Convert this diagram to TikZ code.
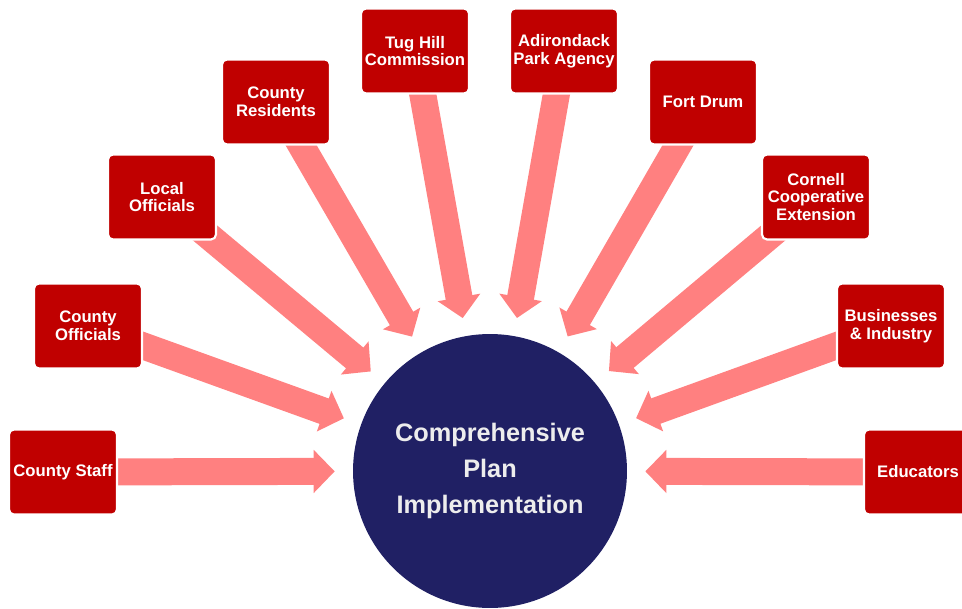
\documentclass[tikz,border=0pt]{standalone}
\usepackage{fontspec}
\setmainfont{Liberation Sans}
\usetikzlibrary{arrows.meta,backgrounds}
\definecolor{boxred}{RGB}{192,0,0}
\definecolor{arrowpink}{RGB}{255,128,128}
\definecolor{hubnavy}{RGB}{32,32,100}
\tikzset{
  party/.style={rectangle, rounded corners=0.1cm, fill=boxred, draw=white,
    line width=1.2pt, minimum width=2.16cm, minimum height=1.7cm,
    text=white, align=center, inner sep=0pt,
    font=\bfseries\fontsize{9.5}{10}\selectfont},
  hub/.style={circle, fill=hubnavy, minimum size=5.48cm, inner sep=0pt,
    text=white!93!black, align=center,
    font=\bfseries\fontsize{14.4}{20.7}\selectfont},
  flow/.style={draw=arrowpink, line width=0.54cm,
    -{Triangle[length=0.42cm,width=0.84cm]}, shorten >=0.36cm}
}
\begin{document}
\begin{tikzpicture}[x=0.02cm,y=-0.02cm]
      \useasboundingbox (0,0) rectangle (962,608);
      \draw
        (490,471) node[hub] (cpi){Comprehensive\\Plan\\Implementation}
        (63,472) node[party] (cs){County Staff}
        (88,326) node[party] (co){County\\Officials}
        (162,197) node[party] (lo){Local\\Officials}
        (276,102) node[party] (cr){County\\Residents}
        (415,51) node[party] (th){Tug Hill\\Commission}
        (564,51) node[party] (apa){Adirondack\\Park Agency}
        (703,102) node[party] (fd){Fort Drum}
        (816,197) node[party] (cce){Cornell\\Cooperative\\Extension}
        (891,326) node[party] (bi){Businesses\\\& Industry}
        (918,472) node[party] (ed){Educators};
      \begin{scope}[on background layer]
        \draw[flow] (cs.center) to (cpi);
        \draw[flow] (co.center) to (cpi);
        \draw[flow] (lo.center) to (cpi);
        \draw[flow] (cr.center) to (cpi);
        \draw[flow] (th.center) to (cpi);
        \draw[flow] (apa.center) to (cpi);
        \draw[flow] (fd.center) to (cpi);
        \draw[flow] (cce.center) to (cpi);
        \draw[flow] (bi.center) to (cpi);
        \draw[flow] (ed.center) to (cpi);
      \end{scope}
    \end{tikzpicture}
\end{document}
